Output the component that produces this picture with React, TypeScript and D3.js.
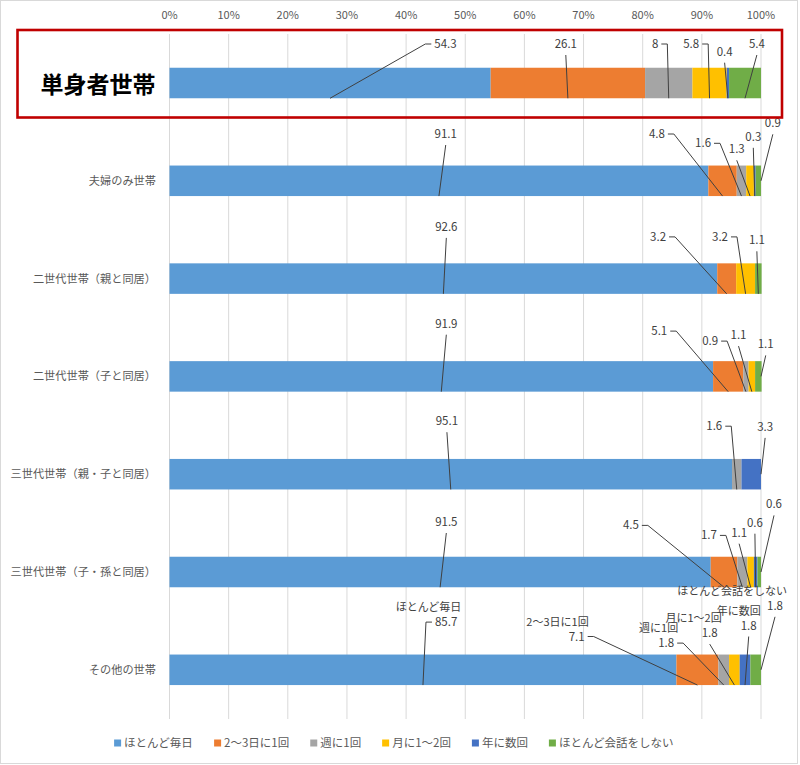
import React from 'react';
import * as d3 from 'd3';

const categories = [
  '単身者世帯',
  '夫婦のみ世帯',
  '二世代世帯（親と同居）',
  '二世代世帯（子と同居）',
  '三世代世帯（親・子と同居）',
  '三世代世帯（子・孫と同居）',
  'その他の世帯',
];
const seriesNames = ['ほとんど毎日', '2～3日に1回', '週に1回', '月に1～2回', '年に数回', 'ほとんど会話をしない'];
const colors = ['#5b9bd5', '#ed7d31', '#a5a5a5', '#ffc000', '#4472c4', '#70ad47'];

const daily = [54.3, 91.1, 92.6, 91.9, 95.1, 91.5, 85.7];
const every2to3 = [26.1, 4.8, 3.2, 5.1, 0, 4.5, 7.1];
const weekly = [8, 1.6, 0, 0.9, 1.6, 1.7, 1.8];
const monthly = [5.8, 1.3, 3.2, 1.1, 0, 1.1, 1.8];
const yearly = [0.4, 0.3, 0, 0, 3.3, 0.6, 1.8];
const never = [5.4, 0.9, 1.1, 1.1, 0, 0.6, 1.8];
const seriesValues = [daily, every2to3, weekly, monthly, yearly, never];

const axisTicks = [0, 10, 20, 30, 40, 50, 60, 70, 80, 90, 100];
const highlighted = '単身者世帯';
const namedRow = 'その他の世帯';

// label layout: [series, label x in %, vertical offset from row centre, leader mode]
const labelLayout: [number, number, number, string][][] = [
  [[0, 46.66, -39, 'l'], [1, 67.0, -39, 'b'], [2, 82.1, -39, 'r'], [3, 88.2, -39, 'r'], [4, 93.85, -31.3, 'b'], [5, 99.3, -39, 'b']],
  [[0, 46.7, -46.8, 'b'], [1, 82.4, -46.8, 'r'], [2, 90.2, -37.5, 'r'], [3, 95.9, -31.5, 'b'], [4, 98.7, -44, 'b'], [5, 102.0, -57.5, 'e']],
  [[0, 46.8, -51.7, 'b'], [1, 82.6, -41.7, 'r'], [3, 93.07, -41.7, 'r'], [5, 99.3, -38.3, 'b']],
  [[0, 46.8, -52.7, 'b'], [1, 82.8, -45.3, 'r'], [2, 91.4, -35.3, 'r'], [3, 96.2, -41.3, 'b'], [5, 100.8, -32, 'e']],
  [[0, 46.9, -53, 'b'], [2, 92.1, -48, 'r'], [4, 100.7, -47.3, 'e']],
  [[0, 46.8, -50, 'b'], [1, 78.0, -46.6, 'r'], [2, 91.2, -36.6, 'r'], [3, 96.3, -39.3, 'b'], [4, 98.97, -49.3, 'b'], [5, 102.2, -67.6, 'e']],
  [[0, 46.77, -47.7, 'l'], [1, 68.84, -33.3, 'r'], [2, 83.97, -26.7, 'r'], [3, 91.33, -36.7, 'b'], [4, 97.92, -44.3, 'b'], [5, 102.37, -64, 'e']],
];

const FONT = '"Noto Sans CJK JP", "Noto Sans", sans-serif';

let ctx: CanvasRenderingContext2D | null = null;
function measure(text: string, size: number, weight = 'normal'): number {
  if (!ctx && typeof document !== 'undefined') {
    ctx = document.createElement('canvas').getContext('2d');
  }
  if (!ctx) return text.length * size * 0.6;
  ctx.font = `${weight} ${size}px ${FONT}`;
  return ctx.measureText(text).width;
}

export default function App() {
  const W = 800;
  const H = 765;
  const x = d3.scaleLinear().domain([0, 100]).range([169.5, 761]);
  const y = d3.scaleBand<string>().domain(categories).range([34.1, 718.7]).paddingInner(0.688).paddingOuter(0.344);
  const bw = y.bandwidth();
  const gridTop = 34;
  const gridBottom = 719;

  const labelSize = 11.5;
  const legendSize = 11.5;
  const legendItems = seriesNames.map((n) => ({ n, w: measure(n, legendSize) }));
  const legendTotal = d3.sum(legendItems, (d) => 10 + d.w) + 21 * (legendItems.length - 1);
  let lx = 394 - legendTotal / 2;
  const legendPos = legendItems.map((d) => {
    const p = lx;
    lx += 10 + d.w + 21;
    return p;
  });

  return (
    <svg width={W} height={H} style={{ position: 'absolute', left: 0, top: 0, background: '#fff' }} fontFamily={FONT}>
      <rect x={0.5} y={0.5} width={797} height={763} fill="#fff" stroke="#d9d9d9" />
      {axisTicks.map((t) => (
        <g key={t}>
          <line x1={x(t)} x2={x(t)} y1={gridTop} y2={gridBottom} stroke="#d9d9d9" strokeWidth={1} />
          <text x={x(t)} y={15} dy="0.35em" textAnchor="middle" fontSize={11} fill="#595959">
            {t}%
          </text>
        </g>
      ))}
      {categories.map((c, i) => {
        const y0 = y(c)!;
        const yc = y0 + bw / 2;
        let cum = 0;
        const segs = seriesValues.map((vals, s) => {
          const start = cum;
          cum += vals[i];
          return { s, start, end: cum, v: vals[i] };
        });
        return (
          <g key={c}>
            {c !== highlighted && (
              <text x={156} y={yc} dy="0.35em" textAnchor="end" fontSize={11.2} fill="#595959">
                {c}
              </text>
            )}
            {segs
              .filter((d) => d.v > 0)
              .map((d) => (
                <rect key={d.s} x={x(d.start)} y={y0} width={x(d.end) - x(d.start)} height={bw} fill={colors[d.s]} />
              ))}
          </g>
        );
      })}
      {categories.map((c, i) => {
        const y0 = y(c)!;
        const yc = y0 + bw / 2;
        const bottom = y0 + bw;
        let cum = 0;
        const starts = seriesValues.map((vals) => {
          const s = cum;
          cum += vals[i];
          return s;
        });
        const total = cum;
        return (
          <g key={'lab' + c}>
            {labelLayout[i].map(([s, xp, dy, mode]) => {
              const v = seriesValues[s][i];
              const txt = String(v);
              const cx = x(xp);
              const cy = yc + dy;
              const w = measure(txt, labelSize);
              const left = cx - w / 2;
              const right = cx + w / 2;
              let ax = x(starts[s] + v / 2);
              let ay = bottom;
              if (mode === 'e') {
                ax = x(Math.min(total, 100));
                ay = yc;
              }
              let path = '';
              if (mode === 'l') path = `M${left - 3},${cy}L${left - 9},${cy}L${ax},${ay}`;
              else if (mode === 'r') path = `M${right + 3},${cy}L${right + 9},${cy}L${ax},${ay}`;
              else path = `M${cx},${cy + 11}L${ax},${ay}`;
              return (
                <g key={s}>
                  <path d={path} fill="none" stroke="#404040" strokeWidth={1} />
                  <text x={cx} y={cy} dy="0.35em" textAnchor="middle" fontSize={labelSize} fill="#404040">
                    {txt}
                  </text>
                  {c === namedRow && (
                    <text x={right + 4} y={cy - 14.5} dy="0.35em" textAnchor="end" fontSize={11} fill="#404040">
                      {seriesNames[s]}
                    </text>
                  )}
                </g>
              );
            })}
          </g>
        );
      })}
      <rect x={17.5} y={30} width={764.5} height={87.5} fill="none" stroke="#c00000" strokeWidth={2.6} />
      <text x={98} y={y(highlighted)! + bw / 2 + 2} dy="0.35em" textAnchor="middle" fontSize={23} fontWeight="bold" fill="#000">
        {highlighted}
      </text>
      {legendItems.map((d, k) => (
        <g key={d.n} transform={`translate(${legendPos[k]},743)`}>
          <rect x={0} y={-3.5} width={7} height={7} fill={colors[k]} />
          <text x={10} y={0} dy="0.35em" fontSize={legendSize} fill="#595959">
            {d.n}
          </text>
        </g>
      ))}
    </svg>
  );
}
